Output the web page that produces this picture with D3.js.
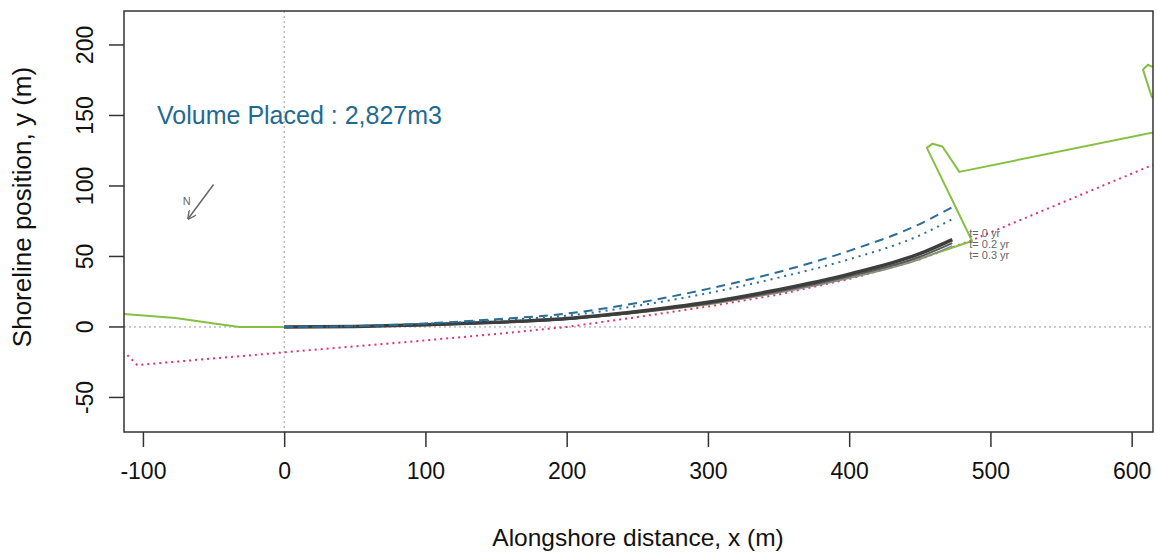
<!DOCTYPE html>
<html>
<head>
<meta charset="utf-8">
<script src="https://cdn.jsdelivr.net/npm/d3@7"></script>
<style>
  body { margin: 0; background: #fff; }
  svg { display: block; font-family: "Liberation Sans", Arial, sans-serif; }
</style>
</head>
<body>
<div id="chart"></div>
<script>
// alongshore positions used by the modelled shorelines (m)
const modelX = [0, 50, 100, 150, 200, 250, 300, 350, 400, 450, 473];
// modelled shoreline positions (m)
const t0Y   = [0, 0.4, 1.5, 3.3, 6, 11, 17.5, 26.5, 37.5, 52, 62];
const t02Y  = [0, 0.4, 1.4, 3.1, 5.7, 10.5, 16.7, 25.3, 36, 49.8, 59.5];
const t03Y  = [0, 0.3, 1.3, 3, 5.5, 10.1, 16.1, 24.4, 34.6, 48, 57.5];
const dashY = [0, 0.6, 2.5, 5.5, 9.5, 17, 27, 39, 54, 73, 85];
const dotY  = [0, 0.5, 2.2, 4.8, 8, 15, 24, 35, 48, 65, 76.5];

// surveyed shoreline / structure outline
const greenX = [-125, -114, -77, -32, 0, 50, 100, 150, 200, 250, 300, 350, 400, 450, 487, 455, 459, 466, 478, 640, 640, 614.3, 608, 611.5, 614.3, 640];
const greenY = [10, 9.2, 6.4, 0, 0, 0.3, 1.3, 3, 5.5, 10, 16, 24.5, 35, 48.5, 61, 127, 130, 128, 110, 143, 163, 163, 182.5, 186, 184.7, 188];

// reference line
const refX = [-111, -104, 0, 100, 150, 200, 250, 300, 350, 400, 450, 488, 615];
const refY = [-20, -27, -18, -9.5, -5, 0, 7, 14.5, 23, 34, 48, 62, 115];

const xTicks = [-100, 0, 100, 200, 300, 400, 500, 600];
const yTicks = [-50, 0, 50, 100, 150, 200];
const timeLabels = ["t= 0 yr", "t= 0.2 yr", "t= 0.3 yr"];
const timeLabelY = [66.8, 59.0, 51.0];

const width = 1157, height = 552;
const margin = { top: 11, right: 4, bottom: 120, left: 124 };

const x = d3.scaleLinear().domain([-113.4, 615.1]).range([margin.left, width - margin.right]);
const y = d3.scaleLinear().domain([-74.5, 224.1]).range([height - margin.bottom, margin.top]);

const svg = d3.select("#chart").append("svg")
    .attr("width", width)
    .attr("height", height);

const defs = svg.append("defs");
defs.append("clipPath").attr("id", "plotClip")
    .append("rect")
    .attr("x", margin.left).attr("y", margin.top)
    .attr("width", width - margin.left - margin.right)
    .attr("height", height - margin.top - margin.bottom);

defs.append("marker")
    .attr("id", "arrowHead")
    .attr("viewBox", "0 0 10 10")
    .attr("refX", 9).attr("refY", 5)
    .attr("markerWidth", 9).attr("markerHeight", 9)
    .attr("markerUnits", "userSpaceOnUse")
    .attr("orient", "auto")
    .append("path")
    .attr("d", "M0,0 L10,5 L0,10")
    .attr("fill", "none")
    .attr("stroke", "#666")
    .attr("stroke-width", 1.5);

const plot = svg.append("g").attr("clip-path", "url(#plotClip)");

// zero reference lines
plot.append("line")
    .attr("x1", margin.left).attr("x2", width - margin.right)
    .attr("y1", y(0)).attr("y2", y(0))
    .attr("stroke", "#999").attr("stroke-width", 1).attr("stroke-dasharray", "2,3");
plot.append("line")
    .attr("x1", x(0)).attr("x2", x(0))
    .attr("y1", margin.top).attr("y2", height - margin.bottom)
    .attr("stroke", "#999").attr("stroke-width", 1).attr("stroke-dasharray", "2,3");

const straight = d3.line().x(d => x(d[0])).y(d => y(d[1]));
const smooth = d3.line().x(d => x(d[0])).y(d => y(d[1])).curve(d3.curveMonotoneX);
const zip = (xs, ys) => xs.map((v, i) => [v, ys[i]]);

const series = [
    { pts: zip(refX, refY),     gen: straight, color: "#e2326e", w: 2,   dash: "2,4" },
    { pts: zip(greenX, greenY), gen: straight, color: "#86c043", w: 2,   dash: null },
    { pts: zip(modelX, t03Y),   gen: smooth,   color: "#8a8a8a", w: 1.5, dash: null },
    { pts: zip(modelX, t02Y),   gen: smooth,   color: "#5a5a5a", w: 2,   dash: null },
    { pts: zip(modelX, t0Y),    gen: smooth,   color: "#3d3d3d", w: 3.5, dash: null },
    { pts: zip(modelX, dotY),   gen: smooth,   color: "#2a6d96", w: 2,   dash: "2,5" },
    { pts: zip(modelX, dashY),  gen: smooth,   color: "#2a6d96", w: 2,   dash: "9,6" }
];

series.forEach(s => {
    plot.append("path")
        .attr("d", s.gen(s.pts))
        .attr("fill", "none")
        .attr("stroke", s.color)
        .attr("stroke-width", s.w)
        .attr("stroke-dasharray", s.dash)
        .attr("stroke-linejoin", "round");
});

// time labels
plot.selectAll(".tlab")
    .data(timeLabels)
    .enter().append("text")
    .attr("class", "tlab")
    .attr("x", x(485))
    .attr("y", (d, i) => y(timeLabelY[i]))
    .attr("dy", "0.35em")
    .attr("font-size", 11)
    .attr("fill", "#666")
    .text(d => d);

// volume annotation
svg.append("text")
    .attr("x", x(-90)).attr("y", y(150.5))
    .attr("dy", "0.35em")
    .attr("font-size", 25)
    .attr("fill", "#1f6a93")
    .text("Volume Placed : 2,827m3");

// north arrow
svg.append("line")
    .attr("x1", x(-50)).attr("y1", y(101))
    .attr("x2", x(-68)).attr("y2", y(76.7))
    .attr("stroke", "#666").attr("stroke-width", 1.5)
    .attr("marker-end", "url(#arrowHead)");
svg.append("text")
    .attr("x", x(-69)).attr("y", y(89.5))
    .attr("dy", "0.35em")
    .attr("text-anchor", "middle")
    .attr("font-size", 11)
    .attr("fill", "#666")
    .text("N");

// axes
const xAxis = svg.append("g")
    .attr("transform", `translate(0,${height - margin.bottom})`)
    .call(d3.axisBottom(x).tickValues(xTicks).tickSize(15).tickPadding(16).tickFormat(d => String(d)));
const yAxis = svg.append("g")
    .attr("transform", `translate(${margin.left},0)`)
    .call(d3.axisLeft(y).tickValues(yTicks).tickSize(15).tickFormat(d => String(d)));

[xAxis, yAxis].forEach(a => {
    a.select(".domain").remove();
    a.selectAll("line").attr("stroke", "#333").attr("stroke-width", 1.5);
    a.selectAll("text").attr("font-size", 23).attr("fill", "#111")
        .attr("font-family", "Liberation Sans, Arial, sans-serif");
});
yAxis.selectAll("text")
    .attr("text-anchor", "middle")
    .attr("transform", d => `translate(${-24 - 15},${y(d)}) rotate(-90)`)
    .attr("x", 0).attr("y", 0).attr("dy", "0.35em");
yAxis.selectAll(".tick").attr("transform", null);
yAxis.selectAll(".tick line").attr("y1", d => y(d)).attr("y2", d => y(d));

// plot box
svg.append("rect")
    .attr("x", margin.left).attr("y", margin.top)
    .attr("width", width - margin.left - margin.right)
    .attr("height", height - margin.top - margin.bottom)
    .attr("fill", "none").attr("stroke", "#333").attr("stroke-width", 1.5);

// axis titles
svg.append("text")
    .attr("x", 638).attr("y", 537)
    .attr("dy", "0.35em")
    .attr("text-anchor", "middle")
    .attr("font-size", 24.5).attr("fill", "#111")
    .text("Alongshore distance, x (m)");
svg.append("text")
    .attr("transform", `translate(22,207) rotate(-90)`)
    .attr("dy", "0.35em")
    .attr("text-anchor", "middle")
    .attr("font-size", 26).attr("fill", "#111")
    .text("Shoreline position, y (m)");
</script>
</body>
</html>
